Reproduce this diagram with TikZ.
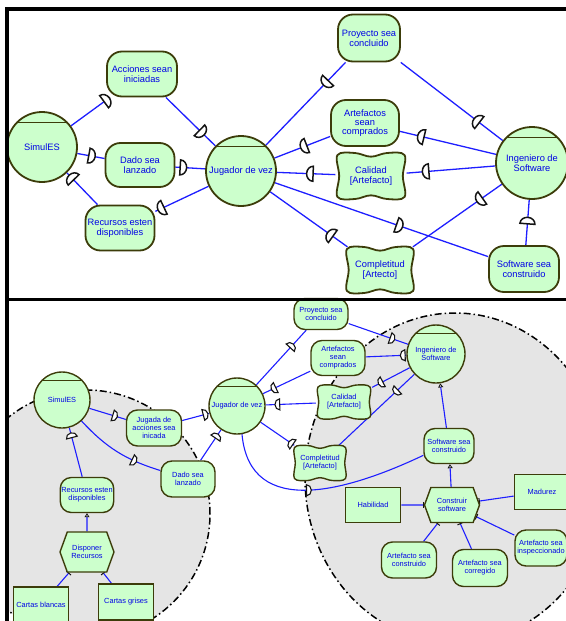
\documentclass[tikz,border=0pt]{standalone}
\usepackage{fontspec}
\setmainfont{Liberation Sans}
\usetikzlibrary{shapes.symbols,arrows.meta,decorations.markings}
\pgfdeclarelayer{back}
\pgfdeclarelayer{links}
\pgfsetlayers{back,links,main}

\definecolor{gfill}{RGB}{204,255,204}
\definecolor{gdraw}{RGB}{60,60,10}
\definecolor{linkblue}{RGB}{30,30,255}
\definecolor{txtblue}{RGB}{0,0,230}
\definecolor{regn}{RGB}{229,229,229}
\definecolor{mk}{RGB}{20,20,20}

\newcommand\depmarkT{\draw[mk, fill=white, line width=1.5pt] (0,-7.5pt) arc[start angle=-90, end angle=90, x radius=6.5pt, y radius=7.5pt] -- cycle;}
\newcommand\depmarkB{\draw[mk, fill=white, line width=1.1pt] (0,-5.5pt) arc[start angle=-90, end angle=90, x radius=4.8pt, y radius=5.5pt] -- cycle;}

\newcommand\softgoal[7]{%
  \pgfmathsetmacro\sgw{#3}\pgfmathsetmacro\sgh{#4}%
  \pgfmathsetmacro\sga{0.16*#4}%
  \draw[#5, shift={#2}] plot[smooth cycle, tension=0.6] coordinates {
    ({-\sgw+2},{-\sgh+2}) ({-0.45*\sgw},{-\sgh}) (0,{-\sgh+\sga}) ({0.45*\sgw},{-\sgh}) ({\sgw-2},{-\sgh+2})
    ({\sgw-\sga},0) ({\sgw-2},{\sgh-2}) ({0.45*\sgw},{\sgh}) (0,{\sgh-\sga}) ({-0.45*\sgw},{\sgh}) ({-\sgw+2},{\sgh-2}) ({-\sgw+\sga},0)};
  \node[#6, minimum width={2*#3}, minimum height={2*#4}] (#1) at #2 {#7};}

\tikzset{
  fT/.style={font=\fontsize{9.3}{9.8}\selectfont},
  fB/.style={font=\fontsize{7.4}{8}\selectfont},
  elem/.style={fill=gfill, draw=gdraw, text=txtblue, align=center, inner sep=1pt},
  goalT/.style={elem, fT, rectangle, rounded corners=15pt, line width=1.8pt},
  goalB/.style={elem, fB, rectangle, rounded corners=11pt, line width=1.4pt},
  resB/.style={elem, fB, rectangle, line width=1.6pt},
  taskB/.style={elem, fB, signal, signal to=east and west, signal pointer angle=140, line width=1.4pt},
  actorT/.style={elem, fT, circle, line width=1.8pt,
    path picture={\draw[gdraw, line width=1.5pt] ([yshift=-10.5pt]path picture bounding box.north west) -- ([yshift=-10.5pt]path picture bounding box.north east);}},
  actorB/.style={elem, fB, circle, line width=1.4pt,
    path picture={\draw[gdraw, line width=1.2pt] ([yshift=-8.5pt]path picture bounding box.north west) -- ([yshift=-8.5pt]path picture bounding box.north east);}},
  sgT/.style={fill=gfill, draw=gdraw, line width=1.8pt},
  sgB/.style={fill=gfill, draw=gdraw, line width=1.4pt},
  softT/.style={fT, text=txtblue, align=center, inner sep=1pt, rectangle},
  softB/.style={fB, text=txtblue, align=center, inner sep=1pt, rectangle},
  conn/.style={draw=linkblue, line width=1.3pt},
  connB/.style={draw=linkblue, line width=1.1pt},
  depT/.style={conn, postaction={decorate, decoration={markings, mark=at position #1 with {\depmarkT}}}},
  depB/.style={connB, postaction={decorate, decoration={markings, mark=at position #1 with {\depmarkB}}}},
  meB/.style={connB, -{Triangle[width=5pt, length=4pt, fill=white, color=mk, line width=0.8pt]}},
  decB/.style={connB, -{Bar[width=6pt, line width=1pt, color=mk]}},
  region/.style={fill=regn, draw=black, line width=1.5pt, dash pattern=on 7pt off 3pt on 1.5pt off 3pt},
  frame/.style={draw=black, line width=3.5pt}
}

\begin{document}
\begin{tikzpicture}[x=1pt, y=-1pt]
\useasboundingbox (0,0) rectangle (565,621);

% ---------- regions (bottom panel) ----------
\begin{pgfonlayer}{back}
\begin{scope}
\clip (8.8,301.5) rectangle (566,622);
\draw[region] (86,514) circle[radius=124pt];
\draw[region] (455,478) ellipse[x radius=150pt, y radius=165pt];
\end{scope}
\end{pgfonlayer}

% ---------- top panel nodes ----------
\node[actorT, minimum size=70pt] (S1) at (42,147) {SimulES};
\node[goalT, minimum width=70pt, minimum height=45pt] (A1) at (142,74) {Acciones sean\\iniciadas};
\node[goalT, minimum width=69pt, minimum height=44pt] (D1) at (140,165) {Dado sea\\lanzado};
\node[goalT, minimum width=69pt, minimum height=45pt] (R1) at (120,228) {Recursos esten\\disponibles};
\node[actorT, minimum size=70pt] (J1) at (241,171) {Jugador de vez};
\node[goalT, minimum width=62pt, minimum height=47pt] (P1) at (369,38) {Proyecto sea\\concluido};
\node[goalT, minimum width=68pt, minimum height=46pt, font=\fontsize{9.3}{8.7}\selectfont] (AC1) at (365,123) {Artefactos\\sean\\comprados};
\softgoal{C1}{(371,176)}{35.5}{23}{sgT}{softT}{Calidad\\{[Artefacto]}}
\softgoal{CO1}{(380,270)}{35}{23}{sgT}{softT}{Completitud\\{[Artecto]}}
\node[actorT, minimum size=72pt] (I1) at (532,163) {Ingeniero de\\Software};
\node[goalT, minimum width=70pt, minimum height=46pt] (SW1) at (524,269) {Software sea\\construido};

% ---------- bottom panel nodes ----------
\node[actorB, minimum size=56pt] (S2) at (62,400) {SimulES};
\node[goalB, minimum width=55pt, minimum height=36pt] (JA2) at (154,428) {Jugada de\\acciones sea\\inicada};
\node[goalB, minimum width=54pt, minimum height=36pt] (DA2) at (188,479) {Dado sea\\lanzado};
\node[goalB, minimum width=52pt, minimum height=35pt] (R2) at (87,495) {Recursos esten\\disponibles};
\node[taskB, minimum width=54pt, minimum height=40pt] (DR2) at (87,552) {Disponer\\Recursos};
\node[resB, minimum width=55pt, minimum height=36pt] (CB2) at (41,605) {Cartas blancas};
\node[resB, minimum width=55pt, minimum height=36pt] (CG2) at (126,602) {Cartas grises};
\node[actorB, minimum size=56pt] (J2) at (237,406) {Jugador de vez};
\node[goalB, minimum width=54pt, minimum height=31pt] (P2) at (321,314) {Proyecto sea\\concluido};
\node[goalB, minimum width=54pt, minimum height=35pt] (AC2) at (338,358) {Artefactos\\sean\\comprados};
\softgoal{C2}{(344,402)}{28}{17}{sgB}{softB}{Calidad\\{[Artefacto]}}
\softgoal{CO2}{(320,463)}{27.5}{17.5}{sgB}{softB}{Completitud\\{[Artefacto]}}
\node[actorB, minimum size=58pt] (I2) at (436,354) {Ingeniero de\\Software};
\node[goalB, minimum width=50pt, minimum height=35pt] (SW2) at (449,446) {Software sea\\construido};
\node[taskB, minimum width=55pt, minimum height=35pt] (CS2) at (452,505) {Construir\\software};
\node[resB, minimum width=55pt, minimum height=35pt] (H2) at (373,505) {Habilidad};
\node[resB, minimum width=55pt, minimum height=35pt] (M2) at (542,492) {Madurez};
\node[goalB, minimum width=55pt, minimum height=36pt] (ASC2) at (409,560) {Artefacto sea\\construido};
\node[goalB, minimum width=55pt, minimum height=37pt] (ACR2) at (480,568) {Artefacto sea\\corregido};
\node[goalB, minimum width=52pt, minimum height=36pt] (AI2) at (541,548) {Artefacto sea\\inspeccionado};

% ---------- links ----------
\begin{pgfonlayer}{links}
\draw[depT=0.85] (S1) -- (A1);
\draw[depT=0.68] (A1) -- (J1);
\draw[depT=0.42] (S1) -- (D1);
\draw[depT=0.16] (D1) -- (J1);
\draw[depT=0.78] (R1) -- (S1);
\draw[depT=0.84] (J1) -- (R1);
\draw[depT=0.22] (P1) -- (J1);
\draw[depT=0.23] (I1) -- (P1);
\draw[depT=0.42] (AC1) -- (J1);
\draw[depT=0.75] (I1) -- (AC1);
\draw[depT=0.38] (C1) -- (J1);
\draw[depT=0.75] (I1) -- (C1);
\draw[depT=0.19] (CO1) -- (J1);
\draw[depT=0.22] (I1) -- (CO1);
\draw[depT=0.57] (J1) -- (SW1);
\draw[depT=0.47] (SW1) -- (I1);

\draw[depB=0.64] (S2) -- (JA2);
\draw[depB=0.78] (JA2) -- (J2);
\draw[depB=0.68] (S2) to[bend right=15] (DA2);
\draw[depB=0.73] (DA2) -- (J2);
\draw[depB=0.8] (R2) -- (S2);
\draw[meB] (DR2) -- (R2);
\draw[decB] (CB2) -- (DR2);
\draw[decB] (CG2) -- (DR2);
\draw[depB=0.68] (J2) -- (P2);
\draw[depB=0.7] (P2) -- (I2);
\draw[depB=0.73] (AC2) -- (J2);
\draw[depB=0.03] (I2) -- (AC2);
\draw[depB=0.72] (C2) -- (J2);
\draw[depB=0.72] (I2) -- (C2);
\draw[depB=0.04] (CO2) -- (J2);
\draw[depB=0.22] (I2) -- (CO2);
\draw[depB=0.44] (J2.-80) .. controls +(8,86) and +(-74,35) .. (SW2.200);
\draw[meB] (SW2) -- (I2);
\draw[meB] (CS2) -- (SW2);
\draw[decB] (H2) -- (CS2);
\draw[decB] (M2) -- (CS2);
\draw[decB] (ASC2) -- (CS2);
\draw[decB] (ACR2) -- (CS2);
\draw[decB] (AI2) -- (CS2);
\end{pgfonlayer}

% ---------- frame ----------
\draw[frame, line join=miter] (7,623) -- (7,8.8) -- (567,8.8);
\draw[frame] (7,299.7) -- (567,299.7);
\end{tikzpicture}
\end{document}
